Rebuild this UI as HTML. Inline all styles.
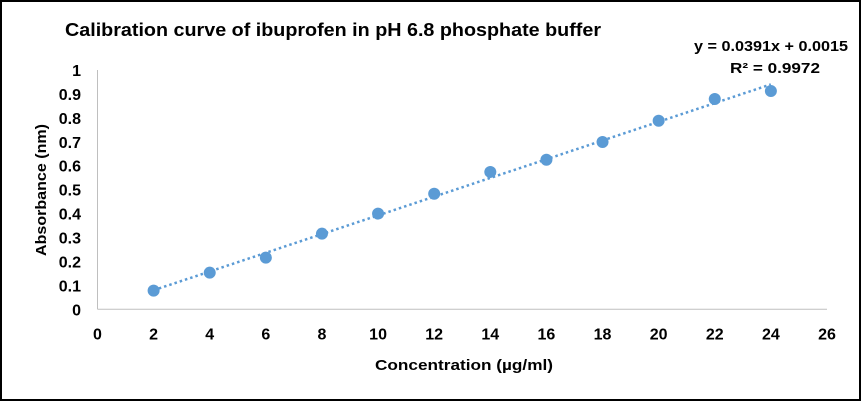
<!DOCTYPE html>
<html><head><meta charset="utf-8"><style>
html,body{margin:0;padding:0;background:#fff;}
svg{display:block;font-family:"Liberation Sans",Arial,sans-serif;}
</style></head><body>
<svg id="chart" width="861" height="401" viewBox="0 0 861 401">
<rect x="1" y="1" width="859" height="399" fill="#fff" stroke="#000" stroke-width="2"/>
<text x="333" y="36" text-anchor="middle" font-size="18.5" font-weight="bold" textLength="536" lengthAdjust="spacingAndGlyphs">Calibration curve of ibuprofen in pH 6.8 phosphate buffer</text>
<g id="axes"></g>
<g id="marks"></g>
<text x="771" y="51" text-anchor="middle" font-size="14.5" font-weight="bold" textLength="154" lengthAdjust="spacingAndGlyphs">y = 0.0391x + 0.0015</text>
<text x="730" y="73" font-size="14.5" font-weight="bold" textLength="90" lengthAdjust="spacingAndGlyphs">R² = 0.9972</text>
<text x="464" y="370" text-anchor="middle" font-size="15" font-weight="bold" textLength="178" lengthAdjust="spacingAndGlyphs">Concentration (µg/ml)</text>
<text transform="translate(46,190) rotate(-90)" text-anchor="middle" font-size="15" font-weight="bold" textLength="132" lengthAdjust="spacingAndGlyphs">Absorbance (nm)</text>
</svg>
<script>
const concentrations = [2,4,6,8,10,12,14,16,18,20,22,24];
const absorbance = [0.078,0.153,0.216,0.316,0.400,0.483,0.574,0.625,0.699,0.788,0.879,0.912];
const xTicks = [0,2,4,6,8,10,12,14,16,18,20,22,24,26];
const yTicks = [0,0.1,0.2,0.3,0.4,0.5,0.6,0.7,0.8,0.9,1];
const slope = 0.0391;
const intercept = 0.0015;

const NS="http://www.w3.org/2000/svg";
const X0=97.5,X1=827,Y0=309.3,Y1=70;
const sx=v=>X0+(v-0)/(26-0)*(X1-X0);
const sy=v=>Y0-(v-0)/(1-0)*(Y0-Y1);
const axes=document.getElementById('axes'),marks=document.getElementById('marks');
function mk(tag,attrs,parent){const e=document.createElementNS(NS,tag);for(const k in attrs)e.setAttribute(k,attrs[k]);parent.appendChild(e);return e;}

let l=mk('line',{x1:X0,y1:Y1,x2:X0,y2:Y0,stroke:'#bfbfbf','stroke-width':1},axes);


l=mk('line',{x1:X0,y1:Y0,x2:X1,y2:Y0,stroke:'#bfbfbf','stroke-width':1},axes);



xTicks.forEach(v=>{const t=mk('text',{x:sx(v),y:Y0+30,'text-anchor':'middle','font-size':16,'font-weight':'bold'},axes);t.textContent=String(v);

});
yTicks.forEach(v=>{const t=mk('text',{x:81,y:sy(v)+6,'text-anchor':'end','font-size':16,'font-weight':'bold'},axes);t.textContent=String(v);

});

const xa=concentrations[0],xb=concentrations[concentrations.length-1];
const tl=mk('line',{x1:sx(xa),y1:sy(slope*xa+intercept),x2:sx(xb),y2:sy(slope*xb+intercept),stroke:'#5b9bd5','stroke-width':2.5,'stroke-dasharray':'2.5 3'},marks);



concentrations.forEach((c,i)=>{const p=mk('circle',{cx:sx(c),cy:sy(absorbance[i]),r:6,fill:'#5b9bd5'},marks);

});
</script>
</body></html>
